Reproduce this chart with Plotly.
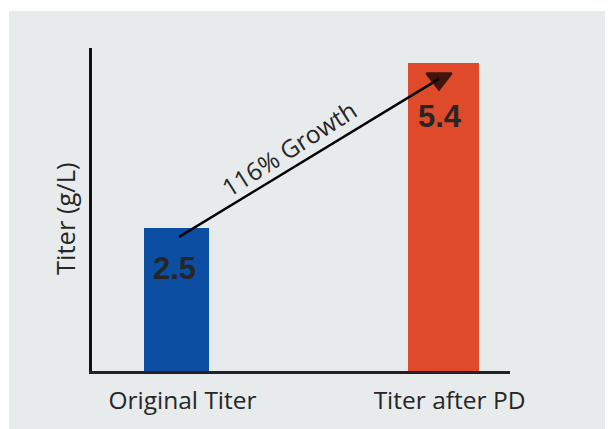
import plotly.graph_objects as go

categories = ["Original Titer", "Titer after PD"]
positions = [0, 1]
values = [2.5, 5.4]
value_labels = ["2.5", "5.4"]
bar_colors = ["#0c4ea2", "#df4a2b"]
bar_widths = [0.245, 0.265]
growth_label = "116% Growth"
y_title = "Titer (g/L)"

# arrow from first bar to second bar (data space)
arrow_x = [0.01, 0.983]
arrow_y = [2.35, 5.12]

TEXT = "#262626"
GRAY = "#e8ebec"

fig = go.Figure()
fig.add_trace(go.Bar(
    x=positions, y=values, width=bar_widths,
    marker=dict(color=bar_colors, line=dict(width=0)),
    hoverinfo="skip", showlegend=False,
))
fig.add_trace(go.Scatter(
    x=arrow_x, y=arrow_y, mode="lines+markers",
    line=dict(color="black", width=2.5),
    marker=dict(symbol=["circle", "triangle-down"], size=[0, 22],
                color="black", line=dict(color="black", width=2)),
    hoverinfo="skip", showlegend=False, cliponaxis=False,
))

shifts = [(-2, -40), (-3.5, -53.5)]
for p, v, lab, (dx, dy) in zip(positions, values, value_labels, shifts):
    fig.add_annotation(x=p, y=v, text=lab, showarrow=False, xshift=dx, yshift=dy,
                       yanchor="middle", xanchor="center",
                       font=dict(family="Liberation Sans", size=31, color=TEXT, weight="bold"))

fig.add_annotation(x=0.421, y=3.9, text=growth_label, showarrow=False, textangle=-32.5,
                   xanchor="center", yanchor="middle",
                   font=dict(family="Open Sans", size=24.5, color=TEXT))

fig.add_annotation(xref="paper", yref="paper", x=-0.0646, y=0.4706, text=y_title,
                   showarrow=False, textangle=-90, xanchor="center", yanchor="middle",
                   font=dict(family="Open Sans", size=25.5, color=TEXT))

fig.add_shape(type="rect", xref="paper", yref="paper", x0=-0.1986, x1=1.25, y0=-0.19, y1=1.1146,
              fillcolor=GRAY, line=dict(width=0), layer="below")

fig.update_layout(
    width=605, height=421,
    margin=dict(l=84, r=103, t=40, b=58),
    paper_bgcolor="white", plot_bgcolor="rgba(0,0,0,0)",
    bargap=0,
    xaxis=dict(range=[-0.3165, 1.249], tickmode="array", tickvals=positions, ticktext=categories,
               showgrid=False, zeroline=False, showline=True, linecolor="#222222", linewidth=3,
               ticks="", ticklabelshift=6, ticklabelstandoff=6,
               tickfont=dict(family="Open Sans", size=24.5, color=TEXT)),
    yaxis=dict(range=[0, 5.66], showgrid=False, zeroline=False, showline=True,
               linecolor="#111111", linewidth=3, showticklabels=False, ticks=""),
)

fig.write_html("out.html")
